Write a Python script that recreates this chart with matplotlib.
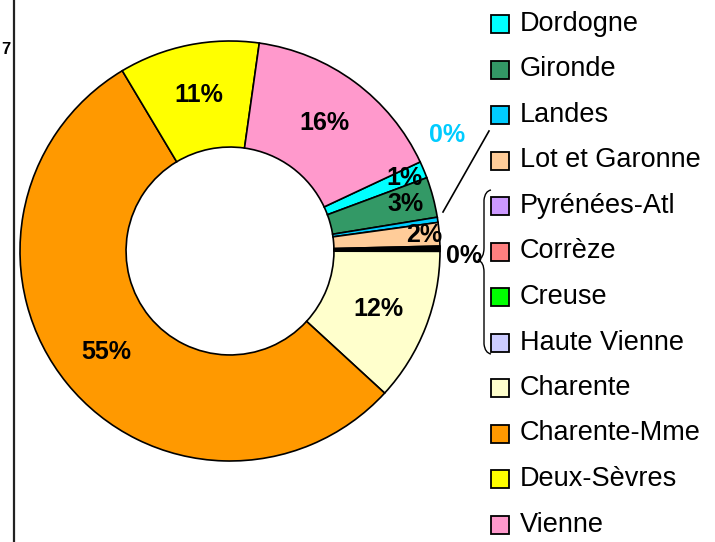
import numpy as np
import matplotlib
matplotlib.use('Agg')
import matplotlib.pyplot as plt
from matplotlib.patches import Rectangle, PathPatch
from matplotlib.path import Path
from matplotlib.lines import Line2D

plt.rcParams['font.family'] = ['Liberation Sans', 'DejaVu Sans']

# donut data (share of total, %)
names = ['Dordogne', 'Gironde', 'Landes', 'Lot et Garonne', 'Pyrénées-Atl',
         'Corrèze', 'Creuse', 'Haute Vienne', 'Charente', 'Charente-Mme',
         'Deux-Sèvres', 'Vienne']
values = [1.3, 3.1, 0.4, 1.8, 0.1, 0.1, 0.1, 0.1, 11.8, 54.6, 10.8, 15.8]
colors = ['#00FFFF', '#339966', '#00CCFF', '#FFCC99', '#CC99FF', '#FF8080',
          '#00FF00', '#CCCCFF', '#FFFFCC', '#FF9900', '#FFFF00', '#FF99CC']

W, H = 715, 542
fig = plt.figure(figsize=(W/100, H/100), dpi=100)

def px(x, y):
    return (x / W, 1 - y / H)

cx, cy, R = 230, 251, 210
ax = fig.add_axes([(cx-R)/W, (H-cy-R)/H, 2*R/W, 2*R/H])
wedges, _ = ax.pie(values, colors=colors, startangle=25.1, counterclock=False,
                   radius=1, wedgeprops=dict(width=0.505, edgecolor='black', linewidth=1.2))
ax.set_xlim(-1, 1)
ax.set_ylim(-1, 1)
ax.set_aspect('equal')
ax.axis('off')

total = sum(values)
lab_fs = 18
# label radius, special cases for narrow slices
lab_r = {0: 0.9, 1: 0.865, 3: 0.93}
skip = {2, 4, 5, 6, 7}
for i, w in enumerate(wedges):
    if i in skip:
        continue
    mid = np.deg2rad((w.theta1 + w.theta2) / 2)
    r = lab_r.get(i, 0.76)
    ax.text(r*np.cos(mid), r*np.sin(mid), '%.0f%%' % (values[i]/total*100),
            ha='center', va='center', fontsize=lab_fs, fontweight='bold')

# Landes label with leader line
fig.text(*px(447, 135), '%.0f%%' % (values[2]/total*100), ha='center', va='center',
         fontsize=lab_fs, fontweight='bold', color='#00CCFF')
fig.add_artist(Line2D([443/W, 489/W], [1-212/H, 1-131/H], color='black', lw=1.2,
                      transform=fig.transFigure))

# small slices grouped with a brace
small = max(values[4:8])
fig.text(*px(464, 256), '%.0f%%' % (small/total*100), ha='center', va='center',
         fontsize=lab_fs, fontweight='bold')
bx = 484
verts = [(491, 190), (485, 191), (bx, 200),
         (bx, 248),
         (bx, 258), (478, 260),
         (bx, 262), (bx, 272),
         (bx, 344),
         (485, 353), (491, 354)]
codes = [Path.MOVETO, Path.CURVE3, Path.CURVE3, Path.LINETO, Path.CURVE3, Path.CURVE3,
         Path.CURVE3, Path.CURVE3, Path.LINETO, Path.CURVE3, Path.CURVE3]
brace = Path([px(x, y) for x, y in verts], codes)
fig.add_artist(PathPatch(brace, fc='none', ec='black', lw=1.0, transform=fig.transFigure))

# legend
for i, name in enumerate(names):
    yc = 24 + 45.5*i
    fig.add_artist(Rectangle(px(491, yc+9), 18/W, 18/H, fc=colors[i], ec='black',
                             lw=1.3, transform=fig.transFigure))
    fig.text(*px(520, yc), name, ha='left', va='center', fontsize=19.5)

# edge of neighbouring chart
fig.add_artist(Line2D([14/W, 14/W], [0, 1], color='#222222', lw=1.6,
                      transform=fig.transFigure))
fig.text(*px(1, 49), '7', ha='left', va='center', fontsize=12, fontweight='bold')

fig.savefig('out.png', dpi=100)
